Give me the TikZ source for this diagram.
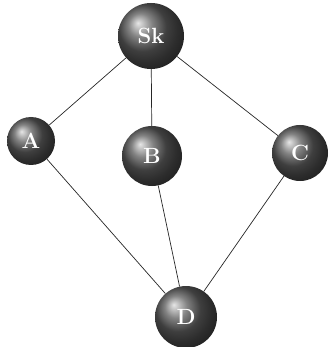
\documentclass[tikz,border=0pt]{standalone}
\usetikzlibrary{shadings}
\begin{document}
\begin{tikzpicture}[x=1pt,y=-1pt,
  ballnode/.style={circle,ball color=gray!70!black,inner sep=0pt,text=white,font=\bfseries\fontsize{22}{24}\selectfont},
  edge/.style={draw=black!85,line width=0.7pt}]
\useasboundingbox[fill=white] (0,0) rectangle (332,347);
\node[ballnode,minimum size=66pt] (S) at (151,36) {Sk};
\node[ballnode,minimum size=48pt] (A) at (31,141) {A};
\node[ballnode,minimum size=60pt] (B) at (152,156) {B};
\node[ballnode,minimum size=56pt] (C) at (300,153) {C};
\node[ballnode,minimum size=62pt] (D) at (186,317) {D};
\path[edge] (S) -- (A);
\path[edge] (S) -- (B);
\path[edge] (S) -- (C);
\path[edge] (A) -- (D);
\path[edge] (B) -- (D);
\path[edge] (C) -- (D);
\end{tikzpicture}
\end{document}
